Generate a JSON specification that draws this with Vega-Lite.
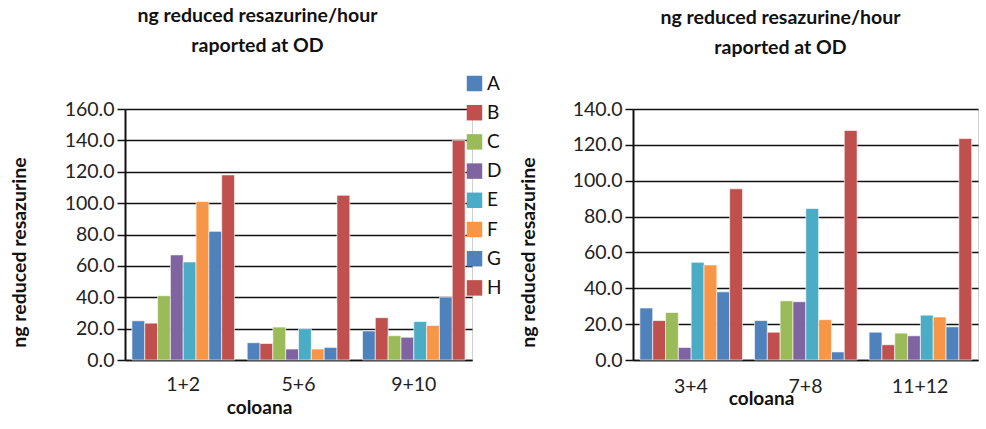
{
  "$schema": "https://vega.github.io/schema/vega-lite/v6.json",
  "background": "white",
  "padding": {"left": 8, "top": 5, "right": 5, "bottom": 5},
  "spacing": 14,
  "config": {
    "font": "Lato",
    "view": {"stroke": "#d0d0d0", "strokeWidth": 1},
    "axis": {"labelFont": "Lato", "titleFont": "Lato", "labelColor": "#222", "titleColor": "#111"},
    "title": {"font": "Lato", "fontSize": 19.5, "fontWeight": "bold", "color": "#111", "lineHeight": 30, "frame": "group"}
  },
  "datasets": {
    "bars": [
      {"panel": "L", "group": "1+2", "series": "A", "value": 25},
      {"panel": "L", "group": "1+2", "series": "B", "value": 23.5},
      {"panel": "L", "group": "1+2", "series": "C", "value": 41},
      {"panel": "L", "group": "1+2", "series": "D", "value": 67},
      {"panel": "L", "group": "1+2", "series": "E", "value": 62.5},
      {"panel": "L", "group": "1+2", "series": "F", "value": 101},
      {"panel": "L", "group": "1+2", "series": "G", "value": 82},
      {"panel": "L", "group": "1+2", "series": "H", "value": 118},
      {"panel": "L", "group": "5+6", "series": "A", "value": 11},
      {"panel": "L", "group": "5+6", "series": "B", "value": 10.5},
      {"panel": "L", "group": "5+6", "series": "C", "value": 21},
      {"panel": "L", "group": "5+6", "series": "D", "value": 7},
      {"panel": "L", "group": "5+6", "series": "E", "value": 20},
      {"panel": "L", "group": "5+6", "series": "F", "value": 7},
      {"panel": "L", "group": "5+6", "series": "G", "value": 8},
      {"panel": "L", "group": "5+6", "series": "H", "value": 105},
      {"panel": "L", "group": "9+10", "series": "A", "value": 18.5},
      {"panel": "L", "group": "9+10", "series": "B", "value": 27},
      {"panel": "L", "group": "9+10", "series": "C", "value": 15.5},
      {"panel": "L", "group": "9+10", "series": "D", "value": 14.5},
      {"panel": "L", "group": "9+10", "series": "E", "value": 24.5},
      {"panel": "L", "group": "9+10", "series": "F", "value": 22},
      {"panel": "L", "group": "9+10", "series": "G", "value": 40},
      {"panel": "L", "group": "9+10", "series": "H", "value": 140},
      {"panel": "R", "group": "3+4", "series": "A", "value": 29},
      {"panel": "R", "group": "3+4", "series": "B", "value": 22},
      {"panel": "R", "group": "3+4", "series": "C", "value": 26.5},
      {"panel": "R", "group": "3+4", "series": "D", "value": 7},
      {"panel": "R", "group": "3+4", "series": "E", "value": 54.5},
      {"panel": "R", "group": "3+4", "series": "F", "value": 53},
      {"panel": "R", "group": "3+4", "series": "G", "value": 38},
      {"panel": "R", "group": "3+4", "series": "H", "value": 95.5},
      {"panel": "R", "group": "7+8", "series": "A", "value": 22},
      {"panel": "R", "group": "7+8", "series": "B", "value": 15.5},
      {"panel": "R", "group": "7+8", "series": "C", "value": 33},
      {"panel": "R", "group": "7+8", "series": "D", "value": 32.5},
      {"panel": "R", "group": "7+8", "series": "E", "value": 84.5},
      {"panel": "R", "group": "7+8", "series": "F", "value": 22.5},
      {"panel": "R", "group": "7+8", "series": "G", "value": 4.5},
      {"panel": "R", "group": "7+8", "series": "H", "value": 128},
      {"panel": "R", "group": "11+12", "series": "A", "value": 15.5},
      {"panel": "R", "group": "11+12", "series": "B", "value": 8.5},
      {"panel": "R", "group": "11+12", "series": "C", "value": 15},
      {"panel": "R", "group": "11+12", "series": "D", "value": 13.5},
      {"panel": "R", "group": "11+12", "series": "E", "value": 25},
      {"panel": "R", "group": "11+12", "series": "F", "value": 24},
      {"panel": "R", "group": "11+12", "series": "G", "value": 18.5},
      {"panel": "R", "group": "11+12", "series": "H", "value": 123.5}
    ]
  },
  "resolve": {"scale": {"color": "shared", "y": "independent", "x": "independent"}, "legend": {"color": "independent"}},
  "hconcat": [
    {
      "width": 347,
      "height": 251,
      "title": {"text": ["ng reduced resazurine/hour", "raported at OD"], "dx": -41, "offset": 18},
      "data": {"name": "bars"},
      "transform": [{"filter": "datum.panel === 'L'"}],
      "mark": {"type": "bar", "stroke": "white", "strokeWidth": 0.6},
      "encoding": {
        "x": {
          "field": "group", "type": "nominal", "sort": ["1+2", "5+6", "9+10"],
          "scale": {"paddingInner": 0.11, "paddingOuter": 0.06},
          "axis": {
            "title": "coloana", "labelAngle": 0, "labelFontSize": 19.5, "labelPadding": 15, "ticks": false,
            "domainColor": "#111", "domainWidth": 1.5,
            "titleFontSize": 19, "titleFontWeight": "bold", "titleX": 134, "titleY": 47, "titleBaseline": "middle", "titleAnchor": null
          }
        },
        "xOffset": {"field": "series", "type": "nominal", "scale": {"paddingInner": 0, "paddingOuter": 0}},
        "y": {
          "field": "value", "type": "quantitative",
          "scale": {"domain": [0, 160], "nice": false},
          "axis": {
            "title": "ng reduced resazurine", "values": [0, 20, 40, 60, 80, 100, 120, 140, 160], "format": ".1f",
            "labelFontSize": 19.5, "labelPadding": 3, "tickColor": "#111", "tickSize": 8, "tickWidth": 1.5,
            "domainColor": "#111", "domainWidth": 2,
            "gridColor": "#111", "gridWidth": 1.5, "grid": true,
            "titleFontSize": 19.5, "titleFontWeight": "bold", "titleX": -106, "titleY": 143, "titleAnchor": null, "titleBaseline": "middle"
          }
        },
        "color": {
          "field": "series", "type": "nominal",
          "scale": {"domain": ["A", "B", "C", "D", "E", "F", "G", "H"], "range": ["#4F81BD", "#C0504D", "#9BBB59", "#8064A2", "#4BACC6", "#F79646", "#4F81BD", "#C0504D"]},
          "legend": {"orient": "none", "legendX": 340, "legendY": -35, "title": null, "symbolType": "square", "symbolSize": 240, "symbolStrokeWidth": 0, "labelFontSize": 19, "labelFont": "Lato", "labelColor": "#111", "rowPadding": 9.2, "padding": 0, "labelOffset": 3}
        }
      }
    },
    {
      "width": 345,
      "height": 251,
      "title": {"text": ["ng reduced resazurine/hour", "raported at OD"], "dx": -25, "offset": 41},
      "data": {"name": "bars"},
      "transform": [{"filter": "datum.panel === 'R'"}],
      "mark": {"type": "bar", "stroke": "white", "strokeWidth": 0.6},
      "encoding": {
        "x": {
          "field": "group", "type": "nominal", "sort": ["3+4", "7+8", "11+12"],
          "scale": {"paddingInner": 0.11, "paddingOuter": 0.06},
          "axis": {
            "title": "coloana", "labelAngle": 0, "labelFontSize": 19.5, "labelPadding": 17, "ticks": false,
            "domainColor": "#111", "domainWidth": 1.5,
            "titleFontSize": 19, "titleFontWeight": "bold", "titleX": 128, "titleY": 38, "titleBaseline": "middle", "titleAnchor": null
          }
        },
        "xOffset": {"field": "series", "type": "nominal", "scale": {"paddingInner": 0, "paddingOuter": 0}},
        "y": {
          "field": "value", "type": "quantitative",
          "scale": {"domain": [0, 140], "nice": false},
          "axis": {
            "title": "ng reduced resazurine", "values": [0, 20, 40, 60, 80, 100, 120, 140], "format": ".1f",
            "labelFontSize": 19.5, "labelPadding": 3, "tickColor": "#111", "tickSize": 8, "tickWidth": 1.5,
            "domainColor": "#111", "domainWidth": 2,
            "gridColor": "#111", "gridWidth": 1.5, "grid": true,
            "titleFontSize": 19.5, "titleFontWeight": "bold", "titleX": -105, "titleY": 143, "titleAnchor": null, "titleBaseline": "middle"
          }
        },
        "color": {"field": "series", "type": "nominal", "legend": null}
      }
    }
  ]
}
